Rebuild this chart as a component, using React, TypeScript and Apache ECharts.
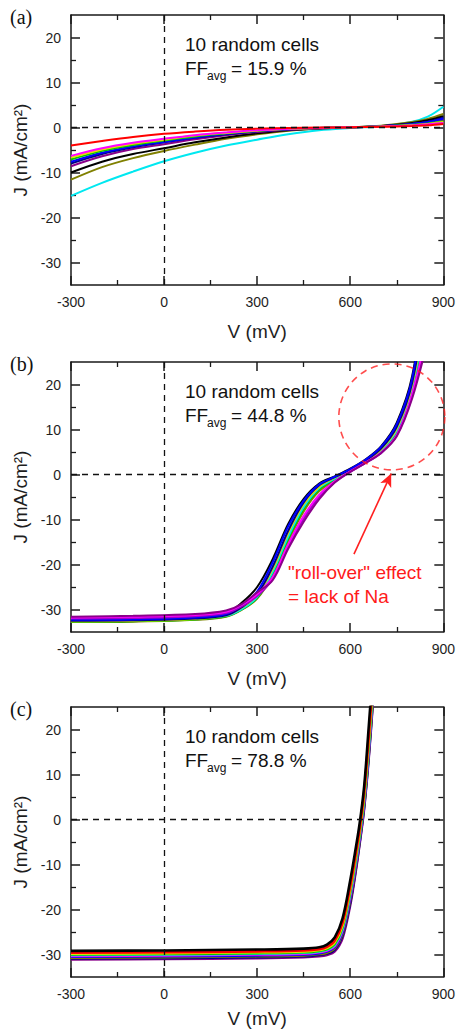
import React, { useEffect, useRef } from "react";
import * as echarts from "echarts";

// ---------- axes ----------
const X_MIN = -300;
const X_MAX = 900;
const X_INTERVAL = 300;
const Y_MIN = -35;
const Y_MAX = 25;
const Y_MAJOR = [-30, -20, -10, 0, 10, 20];
const Y_MINOR = [-25, -15, -5, 5, 15];

const PANEL_LABELS = ["(a)", "(b)", "(c)"];
const FF_VALUES = ["15.9", "44.8", "78.8"];
const CELLS_TEXT = "10 random cells";

// ---------- panel (a): V in mV, J in mA/cm2 ----------
const V_A = [-300, -200, -100, 0, 100, 200, 300, 400, 500, 600, 700, 800, 850, 900];
const A_RED = [-4.0, -3.0, -2.1, -1.4, -0.9, -0.5, -0.25, -0.1, 0, 0.05, 0.15, 0.35, 0.5, 0.8];
const A_MAGENTA = [-6.3, -4.6, -3.4, -2.5, -1.7, -1.1, -0.6, -0.3, -0.1, 0.05, 0.2, 0.45, 0.7, 1.0];
const A_YELLOW = [-6.7, -4.9, -3.6, -2.7, -1.8, -1.2, -0.7, -0.3, -0.1, 0.05, 0.2, 0.5, 0.8, 1.2];
const A_GREEN = [-7.1, -5.2, -3.9, -2.9, -2.0, -1.3, -0.75, -0.35, -0.1, 0.05, 0.25, 0.6, 0.9, 1.4];
const A_BLUE = [-7.6, -5.6, -4.2, -3.2, -2.2, -1.4, -0.8, -0.4, -0.1, 0.05, 0.3, 0.8, 1.2, 2.0];
const A_NAVY = [-8.0, -5.9, -4.4, -3.3, -2.3, -1.5, -0.85, -0.4, -0.1, 0.05, 0.3, 0.8, 1.3, 2.2];
const A_PURPLE = [-8.6, -6.4, -4.8, -3.7, -2.6, -1.7, -1.0, -0.5, -0.15, 0.05, 0.3, 0.8, 1.2, 1.7];
const A_BLACK = [-10.0, -7.6, -5.9, -4.6, -3.3, -2.2, -1.3, -0.6, -0.2, 0.05, 0.35, 1.0, 1.6, 2.5];
const A_OLIVE = [-11.6, -8.8, -6.8, -5.2, -3.8, -2.5, -1.5, -0.7, -0.2, 0.05, 0.4, 1.2, 1.9, 3.0];
const A_CYAN = [-15.2, -12.3, -9.8, -7.5, -5.6, -4.0, -2.7, -1.5, -0.6, -0.1, 0.3, 1.3, 2.4, 4.6];

// ---------- panel (b) ----------
const V_B = [-300, -100, 100, 200, 250, 300, 350, 400, 450, 500, 550, 600, 650, 700, 750, 800, 850];
const B_OLIVE = [-32.8, -32.7, -32.3, -31.6, -30.1, -27.6, -22.4, -14.8, -8.2, -3.7, -1.3, 0.7, 2.7, 5.0, 9.2, 18.5, 35];
const B_GREEN = [-32.7, -32.6, -32.2, -31.5, -30.0, -27.4, -22.0, -14.3, -7.6, -3.3, -1.1, 0.8, 2.8, 5.2, 9.5, 19, 37];
const B_CYAN = [-32.4, -32.3, -32.0, -31.4, -29.9, -27.2, -21.6, -13.8, -7.2, -3.0, -0.9, 0.9, 2.9, 5.4, 9.8, 19.5, 38];
const B_YELLOW = [-32.6, -32.5, -32.1, -31.3, -29.6, -26.8, -21.0, -13.0, -6.6, -2.7, -0.7, 1.0, 3.0, 5.6, 10.2, 20, 40];
const B_NAVY = [-32.5, -32.4, -32.0, -31.3, -29.5, -26.6, -20.5, -12.5, -6.2, -2.4, -0.6, 1.1, 3.1, 5.8, 10.6, 20.5, 42];
const B_BLACK = [-32.0, -31.9, -31.6, -30.8, -28.5, -25.0, -18.8, -11.0, -5.4, -2.0, -0.4, 1.3, 3.4, 6.3, 11.5, 22, 45];
const B_BLUE = [-32.3, -32.2, -31.8, -31.0, -29.0, -26.0, -19.5, -11.5, -5.8, -2.2, -0.5, 1.2, 3.3, 6.2, 11.2, 21.5, 45];
const B_VIOLET = [-32.0, -31.9, -31.5, -30.8, -29.3, -27.0, -23.2, -16.0, -9.8, -5.0, -1.7, 0.6, 2.6, 4.8, 8.7, 17.5, 31];
const B_MAGENTA = [-31.8, -31.6, -31.2, -30.5, -29.0, -26.6, -22.8, -15.5, -9.2, -4.5, -1.5, 0.7, 2.7, 4.9, 8.8, 18, 33];
const B_PURPLE = [-31.6, -31.4, -31.0, -30.2, -28.8, -26.2, -23.5, -16.5, -10.5, -5.5, -1.8, 0.6, 2.6, 4.8, 8.5, 17, 30];

// roll-over annotation (data coordinates)
const ROLL_CIRCLE = [734, 12.8];
const ROLL_ARROW_FROM = [612, -17.7];
const ROLL_ARROW_TO = [732, 0.2];
const ROLL_TEXT_1 = '"roll-over" effect';
const ROLL_TEXT_2 = "= lack of Na";

// ---------- panel (c) ----------
const V_C = [-300, 0, 300, 450, 500, 525, 550, 575, 600, 615, 630, 645, 660, 675];
const C_PURPLE = [-31.1, -31.0, -30.8, -30.6, -30.4, -30.1, -29.3, -26.4, -19.0, -12.8, -5.6, 2.6, 14.0, 28];
const C_NAVY = [-30.9, -30.8, -30.6, -30.4, -30.1, -29.8, -28.9, -25.8, -18.4, -12.3, -5.2, 3.0, 14.5, 28.5];
const C_OLIVE = [-30.7, -30.6, -30.4, -30.2, -29.9, -29.6, -28.6, -25.4, -17.8, -11.8, -4.8, 3.4, 15.0, 29];
const C_BLUE = [-30.5, -30.4, -30.2, -30.0, -29.7, -29.3, -28.3, -25.0, -17.3, -11.3, -4.4, 3.8, 15.5, 30];
const C_MAGENTA = [-30.3, -30.2, -30.0, -29.8, -29.5, -29.1, -28.1, -24.6, -16.9, -10.9, -4.0, 4.2, 16.0, 30.5];
const C_CYAN = [-30.1, -30.0, -29.8, -29.6, -29.3, -28.9, -27.8, -24.3, -16.4, -10.4, -3.6, 4.7, 16.5, 31];
const C_GREEN = [-30.0, -29.9, -29.7, -29.5, -29.2, -28.8, -27.6, -24.0, -16.0, -10.0, -3.3, 5.0, 17.0, 31.5];
const C_YELLOW = [-29.8, -29.7, -29.5, -29.3, -29.0, -28.6, -27.3, -23.6, -15.5, -9.5, -2.8, 5.6, 17.8, 32];
const C_RED = [-29.6, -29.5, -29.3, -29.1, -28.8, -28.3, -26.9, -23.0, -14.8, -8.8, -2.2, 6.3, 18.8, 33];
const C_BLACK = [-29.2, -29.1, -28.9, -28.7, -28.4, -27.8, -26.2, -22.0, -13.5, -7.5, -1.0, 7.5, 21.0, 35];

// ---------- styles ----------
const COL = {
  red: "#ff0000",
  magenta: "#ff00ff",
  yellow: "#e8dc00",
  green: "#00c800",
  blue: "#0000ff",
  navy: "#000080",
  purple: "#8a008a",
  violet: "#a000c8",
  black: "#000000",
  olive: "#808000",
  cyan: "#00e8f0",
};

const PANEL_A = [
  { ys: A_CYAN, c: COL.cyan },
  { ys: A_OLIVE, c: COL.olive },
  { ys: A_BLACK, c: COL.black },
  { ys: A_PURPLE, c: COL.purple },
  { ys: A_NAVY, c: COL.navy },
  { ys: A_BLUE, c: COL.blue },
  { ys: A_GREEN, c: COL.green },
  { ys: A_YELLOW, c: COL.yellow },
  { ys: A_MAGENTA, c: COL.magenta },
  { ys: A_RED, c: COL.red },
];
const PANEL_B = [
  { ys: B_OLIVE, c: COL.olive },
  { ys: B_GREEN, c: COL.green },
  { ys: B_CYAN, c: COL.cyan },
  { ys: B_YELLOW, c: COL.yellow },
  { ys: B_NAVY, c: COL.navy },
  { ys: B_BLACK, c: COL.black },
  { ys: B_BLUE, c: COL.blue },
  { ys: B_VIOLET, c: COL.violet },
  { ys: B_MAGENTA, c: COL.magenta },
  { ys: B_PURPLE, c: COL.purple },
];
const PANEL_C = [
  { ys: C_PURPLE, c: COL.purple },
  { ys: C_NAVY, c: COL.navy },
  { ys: C_OLIVE, c: COL.olive },
  { ys: C_BLUE, c: COL.blue },
  { ys: C_MAGENTA, c: COL.magenta },
  { ys: C_CYAN, c: COL.cyan },
  { ys: C_GREEN, c: COL.green },
  { ys: C_YELLOW, c: COL.yellow },
  { ys: C_RED, c: COL.red },
  { ys: C_BLACK, c: COL.black },
];

const GRID_LEFT = 71;
const GRID_WIDTH = 376;
const GRID_HEIGHT = 270;
const GRID_TOPS = [15, 362, 707];
const X_NAME_GAPS = [37, 37, 32];

const SANS = "'Liberation Sans', Arial, Helvetica, sans-serif";
const SERIF = "'Liberation Serif', 'Times New Roman', serif";
const FRAME = "#1a1a1a";
const TEXT = "#1e1e1e";

export default function App() {
  const ref = useRef<HTMLDivElement>(null);

  useEffect(() => {
    if (!ref.current) return;
    const chart = echarts.init(ref.current, null, { renderer: "svg" });

    const grid: any[] = [];
    const xAxis: any[] = [];
    const yAxis: any[] = [];
    const series: any[] = [];
    const graphic: any[] = [];

    const panels = [
      { xs: V_A, cells: PANEL_A, width: 2 },
      { xs: V_B, cells: PANEL_B, width: 2 },
      { xs: V_C, cells: PANEL_C, width: 2.6 },
    ];

    panels.forEach((p, g) => {
      const top = GRID_TOPS[g];
      grid.push({ left: GRID_LEFT, top, width: GRID_WIDTH, height: GRID_HEIGHT, containLabel: false });

      const xBase = {
        type: "value",
        gridIndex: g,
        min: X_MIN,
        max: X_MAX,
        interval: X_INTERVAL,
        splitLine: { show: false },
        axisLine: { show: true, onZero: false, lineStyle: { color: FRAME, width: 1.5 } },
        axisTick: { show: true, inside: true, length: 9, lineStyle: { color: FRAME, width: 1.5 } },
        minorTick: { show: true, splitNumber: 2, length: 5, lineStyle: { color: FRAME, width: 1.3 } },
        minorSplitLine: { show: false },
      };
      xAxis.push({
        ...xBase,
        position: "bottom",
        name: "V (mV)",
        nameLocation: "middle",
        nameGap: X_NAME_GAPS[g],
        nameTextStyle: { fontSize: 19, fontFamily: SANS, color: TEXT },
        axisLabel: { show: true, margin: 10, fontSize: 14, fontFamily: SANS, color: TEXT },
      });
      xAxis.push({ ...xBase, position: "top", axisLabel: { show: false } });

      const yBase = {
        type: "value",
        gridIndex: g,
        min: Y_MIN,
        max: Y_MAX,
        splitLine: { show: false },
      };
      // left major
      yAxis.push({
        ...yBase,
        position: "left",
        name: "J (mA/cm²)",
        nameLocation: "middle",
        nameGap: 38,
        nameTextStyle: { fontSize: 19, fontFamily: SANS, color: TEXT },
        axisLine: { show: true, onZero: false, lineStyle: { color: FRAME, width: 1.5 } },
        axisTick: { show: true, inside: true, length: 9, customValues: Y_MAJOR, lineStyle: { color: FRAME, width: 1.5 } },
        axisLabel: { show: true, margin: 10, fontSize: 14, fontFamily: SANS, color: TEXT, customValues: Y_MAJOR },
      });
      // left minor
      yAxis.push({
        ...yBase,
        position: "left",
        axisLine: { show: false, onZero: false },
        axisTick: { show: true, inside: true, length: 5, customValues: Y_MINOR, lineStyle: { color: FRAME, width: 1.3 } },
        axisLabel: { show: false, customValues: Y_MINOR },
      });
      // right major
      yAxis.push({
        ...yBase,
        position: "right",
        axisLine: { show: true, onZero: false, lineStyle: { color: FRAME, width: 1.5 } },
        axisTick: { show: true, inside: true, length: 9, customValues: Y_MAJOR, lineStyle: { color: FRAME, width: 1.5 } },
        axisLabel: { show: false, customValues: Y_MAJOR },
      });
      // right minor
      yAxis.push({
        ...yBase,
        position: "right",
        axisLine: { show: false, onZero: false },
        axisTick: { show: true, inside: true, length: 5, customValues: Y_MINOR, lineStyle: { color: FRAME, width: 1.3 } },
        axisLabel: { show: false, customValues: Y_MINOR },
      });

      p.cells.forEach((cell, k) => {
        const s: any = {
          type: "line",
          xAxisIndex: 2 * g,
          yAxisIndex: 4 * g,
          data: p.xs.map((x, i) => [x, cell.ys[i]]),
          symbol: "none",
          showSymbol: false,
          smooth: 0.35,
          clip: true,
          silent: true,
          lineStyle: { color: cell.c, width: p.width },
          itemStyle: { color: cell.c },
          z: 3,
        };
        if (k === 0) {
          s.markLine = {
            silent: true,
            symbol: "none",
            animation: false,
            label: { show: false },
            lineStyle: { color: "#111", type: [6, 5], width: 1.3 },
            data: [{ xAxis: 0 }, { yAxis: 0 }],
            z: 4,
          };
        }
        series.push(s);
      });

      // text annotations
      graphic.push({
        type: "text",
        x: 10,
        y: top + 2,
        style: { text: PANEL_LABELS[g], font: `20px ${SERIF}`, fill: "#111", align: "left", verticalAlign: "middle" },
      });
      graphic.push({
        type: "text",
        x: 185,
        y: top + 29,
        style: { text: CELLS_TEXT, font: `19px ${SANS}`, fill: "#111", align: "left", verticalAlign: "middle" },
      });
      graphic.push({
        type: "text",
        x: 185,
        y: top + 53,
        style: { text: "FF", font: `19px ${SANS}`, fill: "#111", align: "left", verticalAlign: "middle" },
      });
      graphic.push({
        type: "text",
        x: 207,
        y: top + 61,
        style: { text: "avg", font: `12px ${SANS}`, fill: "#111", align: "left", verticalAlign: "middle" },
      });
      graphic.push({
        type: "text",
        x: 231,
        y: top + 53,
        style: { text: `= ${FF_VALUES[g]} %`, font: `19px ${SANS}`, fill: "#111", align: "left", verticalAlign: "middle" },
      });
    });

    // roll-over circle + arrow in panel (b)
    series.push({
      type: "scatter",
      xAxisIndex: 2,
      yAxisIndex: 4,
      data: [ROLL_CIRCLE],
      symbol: "circle",
      symbolSize: 106,
      silent: true,
      clip: false,
      itemStyle: { color: "rgba(0,0,0,0)", borderColor: "#ff2020", borderWidth: 1.6, borderType: [7, 5] },
      z: 5,
      markLine: {
        silent: true,
        animation: false,
        symbol: ["none", "arrow"],
        symbolSize: [9, 13],
        label: { show: false },
        lineStyle: { color: "#ff2020", type: "solid", width: 1.6 },
        data: [[{ coord: ROLL_ARROW_FROM }, { coord: ROLL_ARROW_TO }]],
      },
    });
    graphic.push({
      type: "text",
      x: 288,
      y: 572,
      style: { text: ROLL_TEXT_1, font: `19px ${SANS}`, fill: "#ff1a1a", align: "left", verticalAlign: "middle" },
    });
    graphic.push({
      type: "text",
      x: 288,
      y: 596,
      style: { text: ROLL_TEXT_2, font: `19px ${SANS}`, fill: "#ff1a1a", align: "left", verticalAlign: "middle" },
    });

    chart.setOption({
      animation: false,
      backgroundColor: "#ffffff",
      grid,
      xAxis,
      yAxis,
      series,
      graphic,
    });

    return () => chart.dispose();
  }, []);

  return (
    <div
      ref={ref}
      style={{ position: "absolute", left: 0, top: 0, width: 458, height: 1032, background: "#fff" }}
    />
  );
}
